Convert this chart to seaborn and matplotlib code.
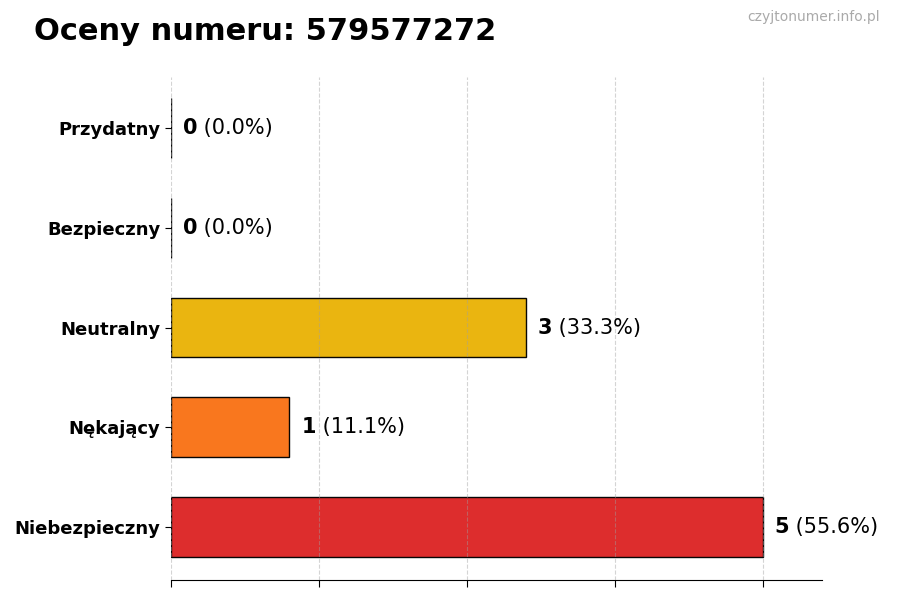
import matplotlib
matplotlib.use("Agg")
import matplotlib.pyplot as plt
import seaborn as sns
import pandas as pd

# dane z wykresu
categories = ['Przydatny', 'Bezpieczny', 'Neutralny', 'Nękający', 'Niebezpieczny']
counts = [0, 0, 3, 1, 5]
colors = ['#22C55E', '#3B82F6', '#EAB308', '#F97316', '#DC2626']
phone_number = '579577272'

total = sum(counts)
df = pd.DataFrame({'kategoria': categories, 'liczba': counts})

sns.set_style('white')
plt.rcParams['font.family'] = ['DejaVu Sans']

fig = plt.figure(figsize=(9, 6), dpi=100)
ax = fig.add_axes([0.19, 0.0333, 0.7233, 0.8384])

sns.barplot(data=df, y='kategoria', x='liczba', hue='kategoria',
            palette=colors, saturation=1, legend=False, orient='h', width=0.6,
            edgecolor='black', linewidth=1, alpha=0.97, ax=ax)

ax.set_xlim(0, 5.5)
ax.set_ylim(4.53, -0.51)
ax.set_xticks([0, 1.25, 2.5, 3.75, 5])
ax.set_xticklabels([])
ax.set_xlabel('')
ax.set_ylabel('')
ax.grid(True, axis='x', linestyle='--', color='#a0a0a0', alpha=0.45, linewidth=0.8)
ax.grid(False, axis='y')
ax.set_axisbelow(False)

for side in ['top', 'right', 'left']:
    ax.spines[side].set_visible(False)
ax.spines['bottom'].set_color('black')
ax.tick_params(axis='x', bottom=True, length=5, color='black')
ax.tick_params(axis='y', left=True, length=4, color='black', labelcolor='black')
for lbl in ax.get_yticklabels():
    lbl.set_fontweight('bold')
    lbl.set_fontsize(13)

# etykiety wartości
fig.canvas.draw()
renderer = fig.canvas.get_renderer()
for i, v in enumerate(counts):
    pct = v / total * 100 if total else 0
    t = ax.text(v + 0.1, i, f'{v}', va='center', ha='left',
                fontsize=15, fontweight='bold', color='black')
    bb = t.get_window_extent(renderer=renderer)
    x_end = ax.transData.inverted().transform((bb.x1, bb.y0))[0]
    ax.text(x_end, i, f' ({pct:.1f}%)', va='center', ha='left',
            fontsize=15, color='black')

fig.text(0.038, 0.948, f'Oceny numeru: {phone_number}', fontsize=22,
         fontweight='bold', color='black', ha='left', va='center')
fig.text(0.978, 0.971, 'czyjtonumer.info.pl', fontsize=10,
         color='#aaaaaa', ha='right', va='center')

fig.savefig('out.png', dpi=100)
